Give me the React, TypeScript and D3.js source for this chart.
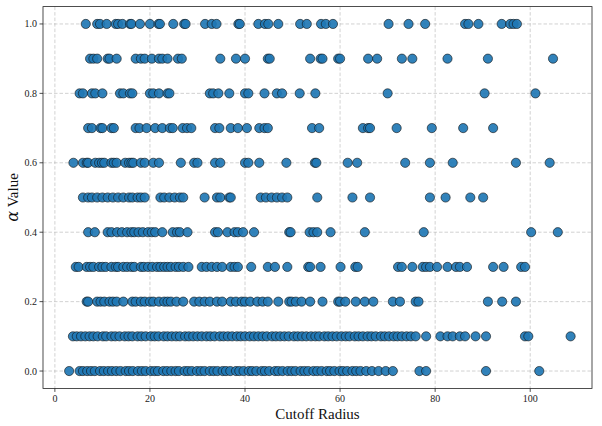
import React from "react";
import * as d3 from "d3";

// Cutoff radii observed at each α level
const alphaLevels = [0.0, 0.1, 0.2, 0.3, 0.4, 0.5, 0.6, 0.7, 0.8, 0.9, 1.0];

const radiiAlpha00 = [3.0, 5.2, 5.9, 6.8, 7.6, 8.4, 9.5, 10.3, 11.2, 12.0, 12.9, 13.8, 14.9, 15.6, 16.4, 17.5, 18.3, 19.1, 20.2, 21.0, 21.7, 22.8, 23.6, 24.5, 25.4, 26.1, 27.3, 28.0, 28.8, 29.9, 30.7, 31.5, 32.6, 33.4, 34.2, 35.3, 36.0, 36.9, 38.1, 38.8, 39.7, 40.8, 41.5, 42.4, 43.5, 44.2, 45.1, 46.3, 47.0, 47.9, 49.0, 49.8, 50.6, 51.7, 52.5, 53.3, 54.4, 55.2, 56.1, 57.2, 57.9, 58.8, 59.9, 60.6, 61.5, 62.6, 63.4, 64.3, 65.5, 66.7, 68.1, 69.6, 71.1, 76.7, 78.1, 90.7, 101.9];
const radiiAlpha01 = [3.8, 4.6, 5.5, 6.4, 7.3, 8.1, 9.0, 10.1, 10.8, 11.9, 12.7, 13.6, 14.7, 15.5, 16.3, 17.4, 18.2, 19.1, 20.2, 21.0, 21.8, 22.9, 23.7, 24.6, 25.5, 26.3, 27.4, 28.2, 29.1, 30.0, 30.9, 31.9, 32.7, 33.6, 34.7, 35.5, 36.4, 37.3, 38.3, 39.1, 40.0, 41.0, 41.9, 42.8, 43.7, 44.6, 45.7, 46.5, 47.4, 48.3, 49.2, 50.3, 51.1, 52.0, 52.9, 53.9, 54.8, 55.6, 56.7, 57.5, 58.4, 59.3, 60.3, 61.2, 62.0, 63.1, 63.9, 64.8, 65.8, 66.6, 67.5, 68.6, 69.4, 70.3, 71.3, 72.1, 73.0, 74.0, 74.9, 75.9, 78.1, 81.1, 82.6, 83.7, 85.2, 86.3, 88.5, 90.7, 98.9, 99.6, 108.5];
const radiiAlpha02 = [6.7, 7.0, 8.9, 9.6, 10.4, 11.5, 12.2, 13.0, 14.4, 16.3, 17.0, 18.1, 18.9, 20.0, 20.7, 21.9, 23.0, 23.7, 24.4, 25.6, 27.0, 29.3, 30.4, 31.5, 32.6, 34.1, 35.2, 37.0, 38.1, 39.3, 40.0, 41.1, 42.6, 43.7, 44.8, 47.0, 49.3, 49.8, 50.7, 51.9, 53.7, 56.3, 59.6, 60.0, 61.1, 63.3, 65.2, 67.0, 71.1, 72.6, 75.9, 76.5, 91.1, 94.1, 97.0];
const radiiAlpha03 = [4.4, 5.0, 6.7, 7.4, 8.1, 9.3, 10.0, 10.7, 11.9, 12.8, 13.3, 14.4, 15.2, 16.1, 16.7, 18.1, 18.7, 19.6, 20.5, 21.5, 22.2, 23.0, 23.7, 24.4, 25.4, 26.1, 27.0, 28.1, 30.9, 31.9, 33.0, 34.1, 35.2, 37.0, 37.8, 38.5, 41.3, 44.8, 46.3, 48.9, 53.3, 53.7, 55.9, 60.1, 63.2, 63.7, 72.2, 73.0, 75.2, 77.4, 78.1, 78.9, 80.4, 82.6, 84.4, 85.2, 86.7, 92.2, 94.4, 98.1, 98.9];
const radiiAlpha04 = [7.0, 8.4, 11.1, 11.9, 13.1, 14.1, 15.2, 16.1, 16.7, 17.6, 18.5, 19.6, 20.4, 21.1, 22.6, 24.8, 25.7, 26.3, 27.9, 33.7, 34.3, 36.3, 37.8, 38.5, 39.6, 41.9, 49.3, 49.6, 53.6, 54.4, 55.2, 58.0, 65.2, 77.6, 100.2, 105.8];
const radiiAlpha05 = [5.9, 7.0, 7.8, 8.9, 10.0, 11.1, 12.2, 13.3, 14.4, 15.6, 16.3, 17.4, 18.1, 18.9, 22.2, 23.0, 24.1, 25.2, 26.3, 27.0, 31.5, 34.1, 34.8, 36.7, 37.0, 43.3, 44.4, 45.6, 46.7, 47.8, 48.9, 55.2, 62.6, 66.3, 78.9, 82.2, 87.4, 90.1];
const radiiAlpha06 = [3.9, 5.9, 6.7, 7.0, 8.5, 9.3, 9.9, 10.4, 11.9, 12.4, 13.0, 14.8, 15.6, 16.1, 16.5, 18.1, 18.9, 20.7, 21.9, 26.5, 29.3, 30.0, 33.7, 34.8, 40.0, 40.7, 43.0, 48.7, 54.7, 55.0, 61.6, 63.6, 73.7, 78.9, 83.7, 97.0, 104.1];
const radiiAlpha07 = [7.0, 7.8, 9.6, 10.0, 11.9, 12.4, 17.0, 17.8, 19.3, 21.1, 22.6, 24.2, 24.8, 26.9, 27.8, 28.7, 33.7, 34.6, 37.0, 38.5, 40.4, 43.0, 44.1, 44.8, 54.1, 55.6, 64.8, 65.9, 66.3, 71.9, 79.3, 85.9, 92.2];
const radiiAlpha08 = [5.2, 5.9, 7.8, 8.5, 10.0, 13.7, 14.4, 15.8, 16.3, 20.0, 20.7, 21.9, 23.7, 24.1, 32.6, 33.3, 34.4, 36.7, 40.0, 40.7, 44.1, 46.7, 47.8, 51.5, 54.8, 70.0, 90.4, 101.1];
const radiiAlpha09 = [7.4, 8.1, 8.9, 11.1, 11.5, 13.0, 17.0, 18.1, 18.9, 20.4, 21.9, 22.6, 23.7, 25.9, 26.7, 34.8, 38.1, 40.0, 44.8, 45.2, 53.7, 55.9, 56.3, 59.6, 60.0, 65.9, 67.8, 73.0, 75.2, 82.6, 91.1, 104.8];
const radiiAlpha10 = [6.5, 8.9, 9.5, 10.9, 12.8, 13.3, 14.2, 15.8, 16.1, 17.9, 20.0, 21.8, 22.1, 24.9, 27.2, 27.5, 31.6, 33.0, 34.0, 38.6, 38.9, 42.8, 44.2, 44.9, 47.0, 51.6, 53.0, 56.0, 57.0, 58.5, 70.2, 74.4, 77.9, 86.3, 87.0, 89.1, 94.0, 95.8, 96.5, 97.2];

const radiiByLevel = [radiiAlpha00, radiiAlpha01, radiiAlpha02, radiiAlpha03, radiiAlpha04, radiiAlpha05, radiiAlpha06, radiiAlpha07, radiiAlpha08, radiiAlpha09, radiiAlpha10];

const xTicks = [0, 20, 40, 60, 80, 100];
const yTicks = [0.0, 0.2, 0.4, 0.6, 0.8, 1.0];

const W = 602;
const H = 426;
const plot = { left: 43, right: 592, top: 6.6, bottom: 388.4 };

export default function App() {
  const x = d3.scaleLinear().domain([-2.5, 113]).range([plot.left, plot.right]);
  const y = d3.scaleLinear().domain([-0.05, 1.05]).range([plot.bottom, plot.top]);

  const points = radiiByLevel.flatMap((radii, i) =>
    radii.map((r) => ({ r, a: alphaLevels[i] }))
  );

  const font = "'Liberation Serif', 'DejaVu Serif', serif";
  const gridStyle = { stroke: "#b0b0b0", strokeWidth: 0.8, strokeDasharray: "3.5,2", opacity: 0.7 };

  return (
    <svg
      width={W}
      height={H}
      style={{ position: "fixed", left: 0, top: 0, background: "#fff" }}
      fontFamily={font}
    >
      <rect x={0} y={0} width={W} height={H} fill="#fff" />
      <defs>
        <clipPath id="plotClip">
          <rect x={plot.left} y={plot.top} width={plot.right - plot.left} height={plot.bottom - plot.top} />
        </clipPath>
      </defs>

      {/* grid */}
      <g>
        {xTicks.map((t) => (
          <line key={"gx" + t} x1={x(t)} x2={x(t)} y1={plot.top} y2={plot.bottom} {...gridStyle} />
        ))}
        {yTicks.map((t) => (
          <line key={"gy" + t} x1={plot.left} x2={plot.right} y1={y(t)} y2={y(t)} {...gridStyle} />
        ))}
      </g>

      {/* points */}
      <g clipPath="url(#plotClip)">
        {points.map((p, i) => (
          <circle
            key={i}
            cx={x(p.r)}
            cy={y(p.a)}
            r={4.6}
            fill="#1f77b4"
            fillOpacity={0.92}
            stroke="#111"
            strokeWidth={0.6}
          />
        ))}
      </g>

      {/* frame */}
      <rect
        x={plot.left}
        y={plot.top}
        width={plot.right - plot.left}
        height={plot.bottom - plot.top}
        fill="none"
        stroke="#222"
        strokeWidth={0.8}
      />

      {/* x axis */}
      <g>
        {xTicks.map((t) => (
          <g key={"tx" + t}>
            <line x1={x(t)} x2={x(t)} y1={plot.bottom} y2={plot.bottom + 3.5} stroke="#222" strokeWidth={0.8} />
            <text x={x(t)} y={plot.bottom + 14} textAnchor="middle" fontSize={10} fill="#222">
              {t}
            </text>
          </g>
        ))}
        <text x={(plot.left + plot.right) / 2} y={419} textAnchor="middle" fontSize={15} fill="#111">
          Cutoff Radius
        </text>
      </g>

      {/* y axis */}
      <g>
        {yTicks.map((t) => (
          <g key={"ty" + t}>
            <line x1={plot.left - 3.5} x2={plot.left} y1={y(t)} y2={y(t)} stroke="#222" strokeWidth={0.8} />
            <text x={plot.left - 6} y={y(t)} dy="0.35em" textAnchor="end" fontSize={10} fill="#222">
              {d3.format(".1f")(t)}
            </text>
          </g>
        ))}
        <text
          transform={`translate(18, ${(plot.top + plot.bottom) / 2}) rotate(-90)`}
          textAnchor="middle"
          fontSize={15}
          fill="#111"
        >
          <tspan fontStyle="italic" fontFamily="'DejaVu Serif', serif" fontSize={16}>α</tspan>
          <tspan> Value</tspan>
        </text>
      </g>
    </svg>
  );
}
